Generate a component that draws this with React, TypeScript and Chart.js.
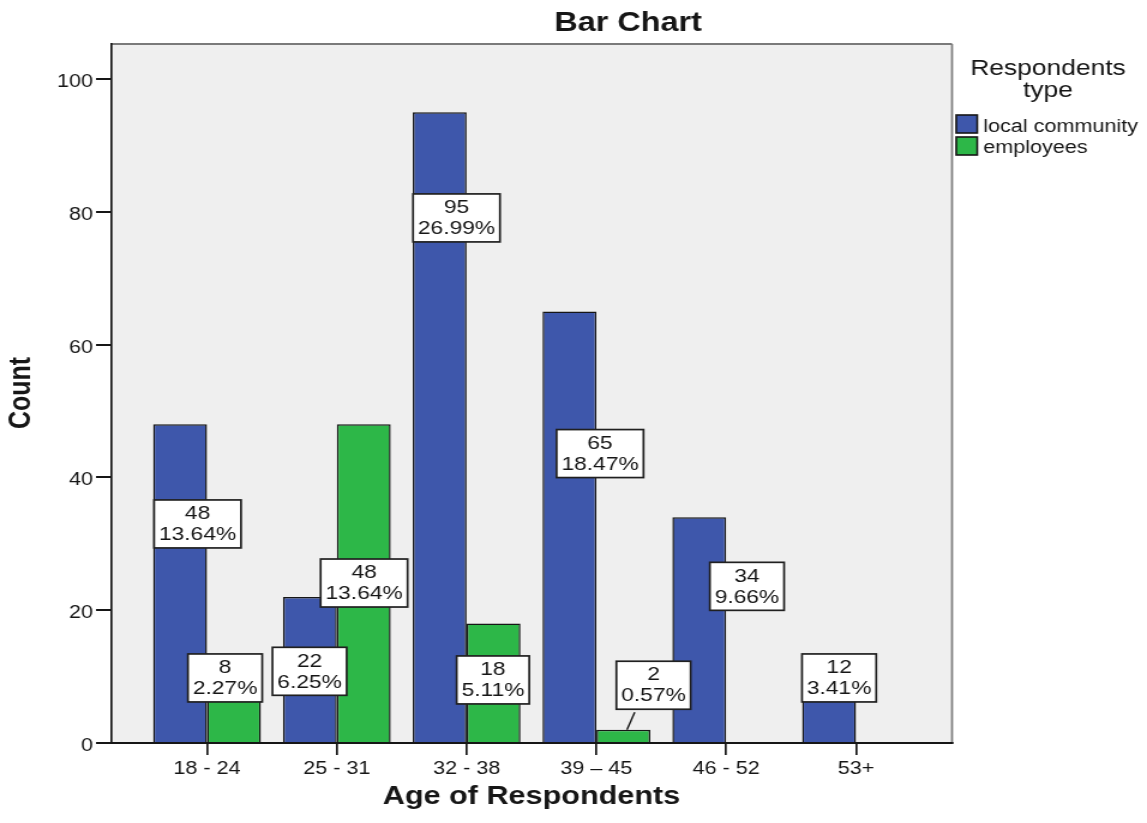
import React, { useEffect, useRef } from 'react';
import { Chart, registerables } from 'chart.js';

Chart.register(...registerables);

// ---- data ----
const categories = ['18 - 24', '25 - 31', '32 - 38', '39 – 45', '46 - 52', '53+'];
const seriesNames = ['local community', 'employees'];
const localCommunity: (number | null)[] = [48, 22, 95, 65, 34, 12];
const employees: (number | null)[] = [8, 48, 18, 2, null, null];
const yTickValues = [0, 20, 40, 60, 80, 100];
const chartTitle = 'Bar Chart';
const xTitle = 'Age of Respondents';
const yTitle = 'Count';
const legendTitle = ['Respondents', 'type'];

// data-label placement: offset from category centre (in categories) and height on value axis
const localLabelDx = [-0.073, -0.21, -0.078, 0.028, 0.16, -0.13];
const localLabelAt = [33.0, 10.8, 79.1, 43.6, 23.6, 9.8];
const employeeLabelDx = [0.139, 0.21, 0.203, 0.44, 0, 0];
const employeeLabelAt = [9.8, 24.1, 9.5, 8.7, 0, 0];
const employeeLeader = [false, false, false, true, false, false];

// ---- style ----
const SCREEN_W = 1147;
const W = 956; // canvas drawn narrower and stretched horizontally, like the reference
const H = 823;
const BLUE = '#3e57ab';
const GREEN = '#2db748';
const INK = '#161616';
const FONT = "'Liberation Sans', Arial, sans-serif";

const total = [...localCommunity, ...employees].reduce((a: number, b) => a + (b ?? 0), 0);

function drawText(ctx: CanvasRenderingContext2D, s: string, x: number, y: number, font: string,
  align: CanvasTextAlign = 'center', baseline: CanvasTextBaseline = 'alphabetic', rot = 0) {
  ctx.save();
  ctx.font = font;
  ctx.fillStyle = INK;
  ctx.textAlign = align;
  ctx.textBaseline = baseline;
  ctx.translate(x, y);
  if (rot) ctx.rotate(rot);
  ctx.fillText(s, 0, 0);
  ctx.restore();
}

const framePlugin = {
  id: 'frame',
  beforeDraw(chart: any) {
    const { ctx, chartArea: a } = chart;
    ctx.save();
    ctx.fillStyle = '#efefef';
    ctx.fillRect(a.left, a.top, a.right - a.left, a.bottom - a.top);
    ctx.strokeStyle = '#7a7a7a';
    ctx.lineWidth = 2;
    ctx.beginPath();
    ctx.moveTo(a.left, a.top);
    ctx.lineTo(a.right, a.top);
    ctx.stroke();
    ctx.lineWidth = 1.7;
    ctx.beginPath();
    ctx.moveTo(a.right, a.top);
    ctx.lineTo(a.right, a.bottom);
    ctx.stroke();
    ctx.restore();
  },
  afterDraw(chart: any) {
    const { ctx, chartArea: a } = chart;
    const xs = chart.scales.x;
    const ys = chart.scales.y;

    // titles
    drawText(ctx, chartTitle, 523.5, 31, `bold 27px ${FONT}`);
    drawText(ctx, xTitle, (a.left + a.right) / 2, 804, `bold 25.5px ${FONT}`);
    drawText(ctx, yTitle, 18.5, 393, `bold 25px ${FONT}`, 'center', 'middle', -Math.PI / 2);

    // legend
    drawText(ctx, legendTitle[0], 873.5, 75, `22px ${FONT}`);
    drawText(ctx, legendTitle[1], 873.5, 97, `22px ${FONT}`);
    const colors = [BLUE, GREEN];
    const swY = [115, 137];
    const txY = [132, 153];
    seriesNames.forEach((name, k) => {
      ctx.save();
      ctx.fillStyle = colors[k];
      ctx.fillRect(797, swY[k], 17.5, 18);
      ctx.strokeStyle = INK;
      ctx.lineWidth = 1.6;
      ctx.strokeRect(797, swY[k], 17.5, 18);
      ctx.restore();
      drawText(ctx, name, 819.5, txY[k], `18px ${FONT}`, 'left');
    });

    // data labels
    const groups = [
      { vals: localCommunity, dx: localLabelDx, at: localLabelAt, meta: 0, leader: [] as boolean[] },
      { vals: employees, dx: employeeLabelDx, at: employeeLabelAt, meta: 1, leader: employeeLeader },
    ];
    const lf = `19px ${FONT}`;
    groups.forEach((g) => {
      g.vals.forEach((v, i) => {
        if (v === null || v === undefined) return;
        const cx = xs.getPixelForValue(i + g.dx[i]);
        const cy = ys.getPixelForValue(g.at[i]);
        const l1 = String(v);
        const l2 = ((v / total) * 100).toFixed(2) + '%';
        ctx.save();
        ctx.font = lf;
        const w = Math.max(ctx.measureText(l1).width, ctx.measureText(l2).width) + 8;
        const h = 48;
        if (g.leader[i]) {
          const bar = chart.getDatasetMeta(g.meta).data[i];
          ctx.strokeStyle = INK;
          ctx.lineWidth = 1.4;
          ctx.beginPath();
          ctx.moveTo(bar.x + 3, bar.y);
          ctx.lineTo(bar.x + 9.5, cy + h / 2 + 3);
          ctx.stroke();
        }
        ctx.fillStyle = '#ffffff';
        ctx.fillRect(cx - w / 2, cy - h / 2, w, h);
        ctx.strokeStyle = '#202020';
        ctx.lineWidth = 1.7;
        ctx.strokeRect(cx - w / 2, cy - h / 2, w, h);
        ctx.restore();
        drawText(ctx, l1, cx, cy - 10, lf, 'center', 'middle');
        drawText(ctx, l2, cx, cy + 11, lf, 'center', 'middle');
      });
    });
  },
};

export default function App() {
  const ref = useRef<HTMLCanvasElement | null>(null);
  useEffect(() => {
    document.body.style.margin = '0';
    const canvas = ref.current;
    if (!canvas) return;
    const chart = new Chart(canvas, {
      type: 'bar',
      data: {
        datasets: [
          {
            label: seriesNames[0],
            data: localCommunity.map((y, i) => ({ x: i, y })) as any,
            backgroundColor: BLUE,
            borderColor: INK,
            borderWidth: 1.5,
          },
          {
            label: seriesNames[1],
            data: employees.map((y, i) => ({ x: i, y })) as any,
            backgroundColor: GREEN,
            borderColor: INK,
            borderWidth: 1.5,
          },
        ],
      },
      options: {
        responsive: false,
        animation: false,
        devicePixelRatio: 1,
        categoryPercentage: 0.83,
        barPercentage: 1,
        layout: { padding: { top: 44, right: W - 793.5, left: 0, bottom: 0 } },
        plugins: {
          legend: { display: false },
          title: { display: false },
          tooltip: { enabled: false },
        },
        scales: {
          x: {
            type: 'linear',
            min: -0.74,
            max: 5.74,
            offset: false,
            afterFit: (s: any) => { s.height = 80; },
            afterBuildTicks: (s: any) => { s.ticks = categories.map((_, i) => ({ value: i })); },
            grid: { display: true, offset: false, drawOnChartArea: false, drawTicks: true, tickLength: 12, color: INK, lineWidth: 1.7 },
            border: { display: true, color: INK, width: 2, z: 1 },
            ticks: {
              callback: (v: any) => categories[v] ?? '',
              font: { family: FONT, size: 18 },
              color: INK,
              padding: 3,
              maxRotation: 0,
              autoSkip: false,
            },
          },
          y: {
            type: 'linear',
            min: 0,
            max: 105.3,
            afterFit: (s: any) => { s.width = 92.5; },
            afterBuildTicks: (s: any) => { s.ticks = yTickValues.map((v) => ({ value: v })); },
            grid: { display: true, offset: false, drawOnChartArea: false, drawTicks: true, tickLength: 12.5, color: INK, lineWidth: 2 },
            border: { display: true, color: INK, width: 1.7, z: 1 },
            ticks: {
              font: { family: FONT, size: 18 },
              color: INK,
              padding: 2.5,
              labelOffset: 3,
            },
          },
        },
      } as any,
      plugins: [framePlugin],
    });
    return () => chart.destroy();
  }, []);
  return (
    <div style={{ width: SCREEN_W, height: H, overflow: 'hidden' }}>
      <canvas
        ref={ref}
        width={W}
        height={H}
        style={{ width: `${SCREEN_W}px`, height: `${H}px`, display: 'block' }}
      />
    </div>
  );
}
